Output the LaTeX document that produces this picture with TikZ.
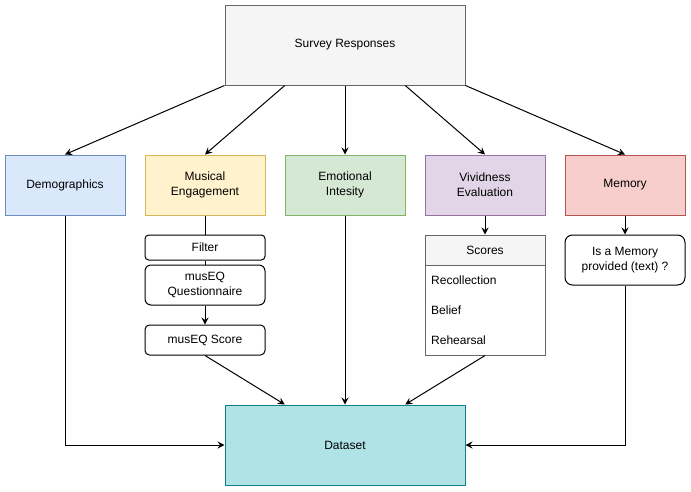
\documentclass[tikz,border=0pt]{standalone}
\usepackage{fontspec}
\setmainfont{Liberation Sans}
\usetikzlibrary{arrows.meta,calc}
\definecolor{grayfill}{HTML}{F5F5F5}
\definecolor{graydraw}{HTML}{666666}
\definecolor{bluefill}{HTML}{DAE8FC}
\definecolor{bluedraw}{HTML}{6C8EBF}
\definecolor{yellowfill}{HTML}{FFF2CC}
\definecolor{yellowdraw}{HTML}{D6B656}
\definecolor{greenfill}{HTML}{D5E8D4}
\definecolor{greendraw}{HTML}{82B366}
\definecolor{purplefill}{HTML}{E1D5E7}
\definecolor{purpledraw}{HTML}{9673A6}
\definecolor{redfill}{HTML}{F8CECC}
\definecolor{reddraw}{HTML}{B85450}
\definecolor{tealfill}{HTML}{B0E3E6}
\definecolor{tealdraw}{HTML}{0E8088}
\begin{document}
\begin{tikzpicture}[x=1pt,y=-1pt,
  box/.style={draw, line width=1pt, minimum width=120pt, minimum height=60pt, inner sep=0pt, align=center, font=\fontsize{12}{15}\selectfont, text=black},
  roundbox/.style={box, draw=black, fill=white, rounded corners=#1},
  itemtext/.style={anchor=west, inner sep=0pt, font=\fontsize{12}{15}\selectfont},
  arr/.style={draw=black, line width=1pt, -{Stealth[length=7pt,width=7pt,inset=2.5pt]}},
  ln/.style={draw=black, line width=1pt}]
\useasboundingbox (0,0) rectangle (691,491);
\fill[white] (0,0) rectangle (691,491);
% top
\node[box, fill=grayfill, draw=graydraw, minimum width=240pt, minimum height=80pt] (survey) at (345,45) {Survey Responses};
% row
\node[box, fill=bluefill, draw=bluedraw] (demo) at (65,185) {Demographics};
\node[box, fill=yellowfill, draw=yellowdraw] (mus) at (205,185) {Musical\\Engagement};
\node[box, fill=greenfill, draw=greendraw] (emo) at (345,185) {Emotional\\Intesity};
\node[box, fill=purplefill, draw=purpledraw] (viv) at (485,185) {Vividness\\Evaluation};
\node[box, fill=redfill, draw=reddraw] (mem) at (625,185) {Memory};
% musical chain
\node[roundbox=3.75pt, minimum height=25pt] (filter) at (205,247.5) {Filter};
\node[roundbox=6pt, minimum height=40pt] (quest) at (205,285) {musEQ\\Questionnaire};
\node[roundbox=4.5pt, minimum height=30pt] (score) at (205,340) {musEQ Score};
% scores list
\node[box, fill=white, draw=graydraw, minimum height=120pt] (scores) at (485,295) {};
\node[box, fill=grayfill, draw=graydraw, minimum height=30pt] (scoreshead) at (485,250) {Scores};
\node[itemtext] (rec) at (431,280) {Recollection};
\node[itemtext] (bel) at (431,310) {Belief};
\node[itemtext] (reh) at (431,340) {Rehearsal};
% memory question
\node[roundbox=7.5pt, minimum height=50pt] (memq) at (625,260) {Is a Memory\\provided (text) ?};
% dataset
\node[box, fill=tealfill, draw=tealdraw, minimum width=240pt, minimum height=80pt] (data) at (345,445) {Dataset};
% coordinates on top box and dataset
\coordinate (s1) at ($(survey.south west)!0.25!(survey.south east)$);
\coordinate (s3) at ($(survey.south west)!0.75!(survey.south east)$);
\coordinate (d1) at ($(data.north west)!0.25!(data.north east)$);
\coordinate (d3) at ($(data.north west)!0.75!(data.north east)$);
% arrows from survey
\draw[arr] (survey.south west) -- (demo.north);
\draw[arr] (s1) -- (mus.north);
\draw[arr] (survey.south) -- (emo.north);
\draw[arr] (s3) -- (viv.north);
\draw[arr] (survey.south east) -- (mem.north);
% chain
\draw[ln] (mus.south) -- (filter.north);
\draw[ln] (filter.south) -- (quest.north);
\draw[arr] (quest.south) -- (score.north);
\draw[arr] (viv.south) -- (scoreshead.north);
\draw[arr] (mem.south) -- (memq.north);
% into dataset
\draw[arr] (score.south) -- (d1);
\draw[arr] (emo.south) -- (data.north);
\draw[arr] (scores.south) -- (d3);
\draw[arr] (demo.south) |- (data.west);
\draw[arr] (memq.south) |- (data.east);
\end{tikzpicture}
\end{document}
